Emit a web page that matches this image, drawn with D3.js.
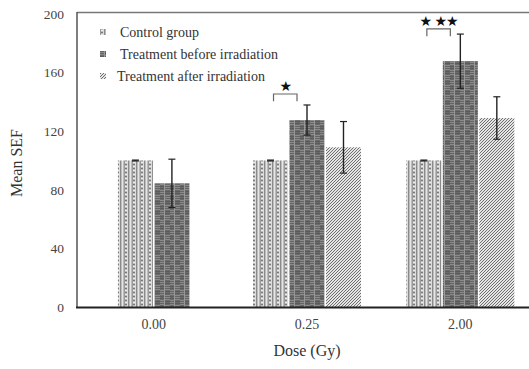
<!DOCTYPE html>
<html><head><meta charset="utf-8">
<script src="https://cdn.jsdelivr.net/npm/d3@7"></script>
<style>body{margin:0;background:#fff}svg{display:block}</style>
</head><body><svg id="c" width="529" height="369"></svg>
<script>
const categories = ["0.00", "0.25", "2.00"];
const seriesNames = ["Control group", "Treatment before irradiation", "Treatment after irradiation"];
const controlMean = [100, 100, 100];
const controlErr = [0.3, 0.3, 0.3];
const beforeMean = [84.4, 127.6, 167.8];
const beforeErr = [16.5, 10.3, 18.5];
const afterMean = [null, 109, 129];
const afterErr = [null, 17.6, 14.5];
const yTicks = [0, 40, 80, 120, 160, 200];
const sigBrackets = [
  {cat: "0.25", level: 145.4, label: "\u2605"},
  {cat: "2.00", level: 189.8, label: "\u2605 \u2605\u2605"}
];

const svg = d3.select("#c");
const m = {l: 77, t: 14, b: 307};
const x = d3.scaleBand().domain(categories).range([77, 537]).padding(0);
const y = d3.scaleLinear().domain([0, 200]).range([m.b, m.t]);
const groupW = 108;
const xi = d3.scaleBand().domain(seriesNames).range([0, groupW]).paddingInner(0.04);

// patterns
const defs = svg.append("defs");
const p1 = defs.append("pattern").attr("id", "pCtrl").attr("patternUnits", "userSpaceOnUse").attr("width", 8).attr("height", 4);
p1.append("rect").attr("width", 8).attr("height", 4).attr("fill", "#bcbcbc");
p1.append("rect").attr("x", 0).attr("width", 1).attr("height", 4).attr("fill", "#8a8a8a");
p1.append("rect").attr("x", 2).attr("width", 1).attr("height", 4).attr("fill", "#e6e6e6");
p1.append("rect").attr("x", 4).attr("width", 1).attr("height", 4).attr("fill", "#999");
p1.append("rect").attr("x", 5).attr("y", 0).attr("width", 2).attr("height", 1).attr("fill", "#7a7a7a");
p1.append("rect").attr("x", 5).attr("y", 2).attr("width", 2).attr("height", 1).attr("fill", "#ececec");
p1.append("rect").attr("x", 7).attr("width", 1).attr("height", 4).attr("fill", "#dcdcdc");

const p2 = defs.append("pattern").attr("id", "pBefore").attr("patternUnits", "userSpaceOnUse").attr("width", 10).attr("height", 10);
p2.append("rect").attr("width", 10).attr("height", 10).attr("fill", "#6a6a6a");
p2.append("rect").attr("width", 5).attr("height", 5).attr("fill", "#8a8a8a");
p2.append("rect").attr("x", 5).attr("y", 5).attr("width", 5).attr("height", 5).attr("fill", "#8a8a8a");
[1, 3, 6, 8].forEach(r => p2.append("rect").attr("y", r).attr("width", 10).attr("height", 0.7).attr("fill", "#555"));
p2.append("rect").attr("x", 4).attr("width", 1).attr("height", 10).attr("fill", "#999");

const p3 = defs.append("pattern").attr("id", "pAfter").attr("patternUnits", "userSpaceOnUse").attr("width", 3).attr("height", 3);
p3.append("rect").attr("width", 3).attr("height", 3).attr("fill", "#e4e4e4");
p3.append("path").attr("d", "M-1,1 L1,-1 M0,3 L3,0 M2,4 L4,2").attr("stroke", "#707070").attr("stroke-width", 1);

const fills = {"Control group": "url(#pCtrl)", "Treatment before irradiation": "url(#pBefore)", "Treatment after irradiation": "url(#pAfter)"};

// data table
const rows = [];
categories.forEach((c, i) => {
  const present = [];
  if (controlMean[i] != null) present.push({s: seriesNames[0], v: controlMean[i], e: controlErr[i]});
  if (beforeMean[i] != null) present.push({s: seriesNames[1], v: beforeMean[i], e: beforeErr[i]});
  if (afterMean[i] != null) present.push({s: seriesNames[2], v: afterMean[i], e: afterErr[i]});
  const usedW = present.length * xi.bandwidth() + (present.length - 1) * xi.step() * xi.paddingInner();
  const start = x(c) + x.bandwidth() / 2 - usedW / 2;
  present.forEach((d, k) => rows.push({cat: c, s: d.s, v: d.v, e: d.e, x0: start + k * xi.step()}));
});

// frame
svg.append("line").attr("x1", m.l).attr("x2", 529).attr("y1", 12.5).attr("y2", 12.5).attr("stroke", "#777").attr("stroke-width", 1.3);
svg.append("line").attr("x1", m.l).attr("x2", m.l).attr("y1", 12).attr("y2", m.b).attr("stroke", "#555").attr("stroke-width", 1.5);

// bars
svg.append("g").selectAll("rect").data(rows).join("rect")
  .attr("x", d => d.x0).attr("width", xi.bandwidth())
  .attr("y", d => y(d.v)).attr("height", d => y(0) - y(d.v))
  .attr("fill", d => fills[d.s]);

// error bars
const eg = svg.append("g").attr("stroke", "#222").attr("stroke-width", 1.4);
rows.forEach(d => {
  const cx = d.x0 + xi.bandwidth() / 2;
  eg.append("line").attr("x1", cx).attr("x2", cx).attr("y1", y(d.v + d.e)).attr("y2", y(d.v - d.e));
  eg.append("line").attr("x1", cx - 3.5).attr("x2", cx + 3.5).attr("y1", y(d.v + d.e)).attr("y2", y(d.v + d.e)).attr("stroke-width", 1.2);
  eg.append("line").attr("x1", cx - 3.5).attr("x2", cx + 3.5).attr("y1", y(d.v - d.e)).attr("y2", y(d.v - d.e)).attr("stroke-width", 1.2);
});

// x axis
const xAxis = d3.axisBottom(x).tickSize(0).tickPadding(12);
const xg = svg.append("g").attr("transform", `translate(0,${m.b})`).call(xAxis);
xg.select(".domain").remove();
xg.selectAll("text").attr("font-family", "Liberation Serif").attr("font-size", 14).attr("fill", "#444");
svg.append("line").attr("x1", m.l - 1).attr("x2", 529).attr("y1", m.b + 0.5).attr("y2", m.b + 0.5).attr("stroke", "#222").attr("stroke-width", 2);

// y axis
const yAxis = d3.axisLeft(y).tickValues(yTicks).tickSize(0).tickPadding(13);
const yg = svg.append("g").attr("transform", `translate(${m.l},0)`).call(yAxis);
yg.select(".domain").remove();
yg.selectAll("text").attr("font-family", "Liberation Serif").attr("font-size", 13.5).attr("fill", "#444");

// axis titles
svg.append("text").attr("x", 307).attr("y", 356).attr("text-anchor", "middle")
  .attr("font-family", "Liberation Serif").attr("font-size", 16).attr("fill", "#333").text("Dose (Gy)");
svg.append("text").attr("transform", "translate(22,163) rotate(-90)").attr("text-anchor", "middle")
  .attr("font-family", "Liberation Serif").attr("font-size", 16).attr("fill", "#333").text("Mean SEF");

// significance brackets
sigBrackets.forEach(b => {
  const a = rows.find(r => r.cat === b.cat && r.s === seriesNames[0]);
  const c = rows.find(r => r.cat === b.cat && r.s === seriesNames[1]);
  const x1 = a.x0 + xi.bandwidth() / 2 + 3, x2 = c.x0 + xi.bandwidth() / 2 - 10;
  const yt = y(b.level), yb = y(b.level - 5);
  svg.append("path").attr("d", `M${x1},${yb} L${x1},${yt} L${x2},${yt} L${x2},${yb}`)
    .attr("fill", "none").attr("stroke", "#666").attr("stroke-width", 1.2);
  svg.append("text").attr("x", (x1 + x2) / 2).attr("y", yt - 3).attr("text-anchor", "middle")
    .attr("font-family", "DejaVu Sans").attr("font-size", 14).attr("letter-spacing", "-1").attr("fill", "#111").text(b.label);
});

// legend
const lg = svg.append("g");
const legY = [33, 55, 77];
seriesNames.forEach((s, i) => {
  lg.append("rect").attr("x", 100).attr("y", legY[i] - 4).attr("width", 6).attr("height", 6).attr("fill", fills[s]);
  lg.append("text").attr("x", i === 2 ? 117 : 120).attr("y", legY[i] + 4)
    .attr("font-family", "Liberation Serif").attr("font-size", 14).attr("fill", "#333").text(s);
});
</script></body></html>
